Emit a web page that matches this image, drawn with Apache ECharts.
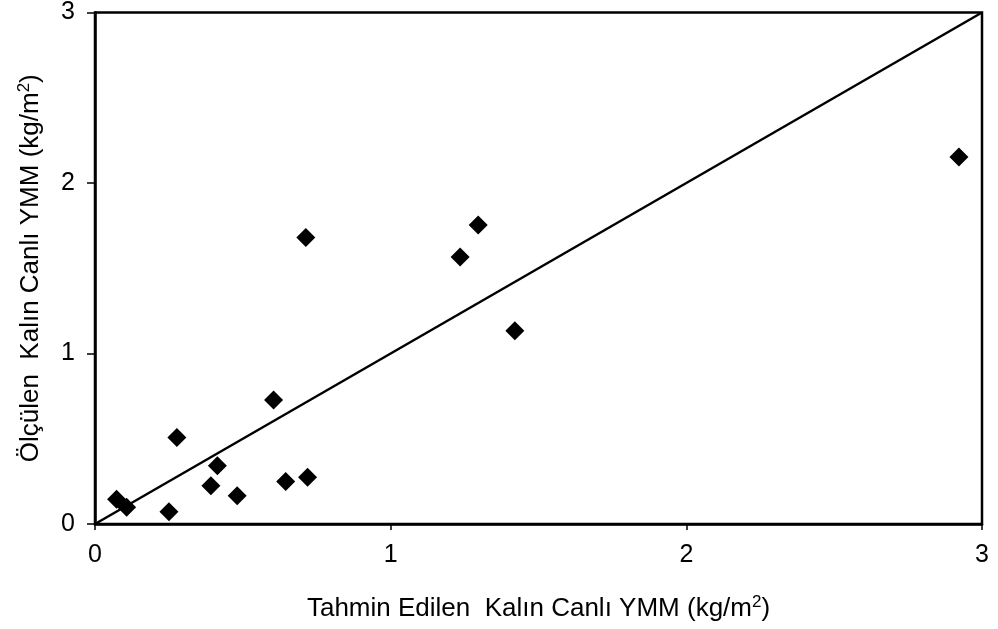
<!DOCTYPE html>
<html>
<head>
<meta charset="utf-8">
<script src="https://cdn.jsdelivr.net/npm/echarts@6/dist/echarts.min.js"></script>
<style>
html,body{margin:0;padding:0;background:#fff;}
#chart{width:998px;height:629px;}
</style>
</head>
<body>
<div id="chart"></div>
<script>
// Predicted (x) vs measured (y) thick live root biomass, kg/m2
const predicted = [0.073, 0.107, 0.250, 0.277, 0.392, 0.414, 0.481, 0.604, 0.645, 0.719, 0.713, 1.235, 1.296, 1.420, 2.922];
const measured  = [0.145, 0.098, 0.072, 0.508, 0.224, 0.342, 0.166, 0.728, 0.250, 0.274, 1.680, 1.566, 1.754, 1.133, 2.152];
// 1:1 reference line
const oneToOneX = [0, 3];
const oneToOneY = [0, 3];
const axisTicks = [0, 1, 2, 3];

const xTitle = 'Tahmin Edilen  Kalın Canlı YMM (kg/m{sup|2})';
const yTitle = 'Ölçülen  Kalın Canlı YMM (kg/m{sup|2})';

const font = 'Liberation Sans, Arial, Helvetica, sans-serif';
const titleStyle = {
  color: '#000', fontFamily: font, fontSize: 26,
  rich: { sup: { fontSize: 17, verticalAlign: 'top', padding: [0, 0, 12, 0], color: '#000', fontFamily: font } }
};

const chart = echarts.init(document.getElementById('chart'));
chart.setOption({
  animation: false,
  backgroundColor: '#fff',
  grid: {
    left: 95, right: 16, top: 12, bottom: 105,
    show: true, borderColor: '#000', borderWidth: 2.5, backgroundColor: 'transparent'
  },
  xAxis: {
    type: 'value', min: axisTicks[0], max: axisTicks[axisTicks.length - 1], interval: 1,
    name: xTitle, nameLocation: 'middle', nameGap: 70,
    nameTextStyle: titleStyle,
    axisLine: { show: true, lineStyle: { color: '#000', width: 2.5 } },
    axisTick: { show: true, inside: false, length: 6, lineStyle: { color: '#000', width: 1.5 } },
    axisLabel: { color: '#000', fontFamily: font, fontSize: 25, margin: 19 },
    splitLine: { show: false }
  },
  yAxis: {
    type: 'value', min: axisTicks[0], max: axisTicks[axisTicks.length - 1], interval: 1,
    name: yTitle, nameLocation: 'middle', nameGap: 50, nameRotate: 90,
    nameTextStyle: titleStyle,
    axisLine: { show: true, lineStyle: { color: '#000', width: 2.5 } },
    axisTick: { show: true, inside: false, length: 8, lineStyle: { color: '#000', width: 1.5 } },
    axisLabel: { color: '#000', fontFamily: font, fontSize: 25, margin: 20 },
    splitLine: { show: false }
  },
  series: [
    {
      type: 'line',
      data: oneToOneX.map((x, i) => [x, oneToOneY[i]]),
      symbol: 'none',
      lineStyle: { color: '#000', width: 2.5 },
      z: 2
    },
    {
      type: 'scatter',
      data: predicted.map((x, i) => [x, measured[i]]),
      symbol: 'diamond',
      symbolSize: 19,
      itemStyle: { color: '#000', opacity: 1 },
      z: 3
    }
  ]
});
</script>
</body>
</html>
